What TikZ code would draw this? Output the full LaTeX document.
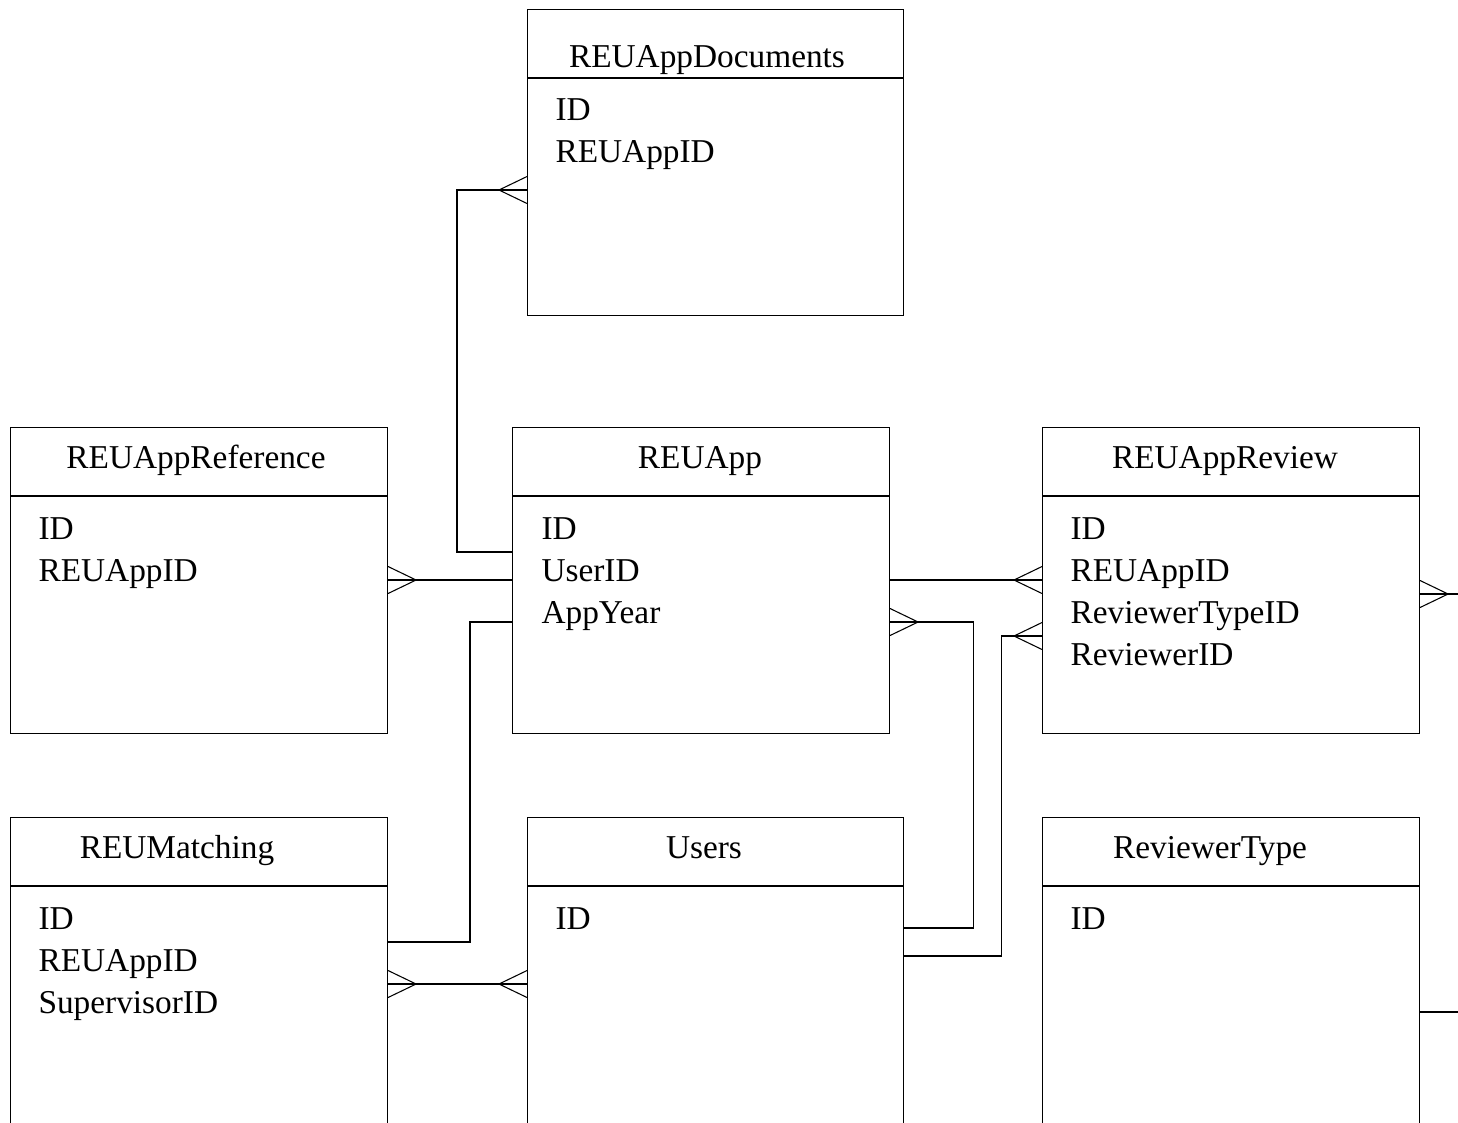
\documentclass[tikz,border=0pt]{standalone}
\usepackage{fontspec}
\setmainfont{Liberation Serif}
\usetikzlibrary{calc}

\begin{document}
\begin{tikzpicture}[x=0.75pt,y=-0.75pt,
  line width=0.8pt,
  font=\fontsize{25}{30}\selectfont,
  entity/.style={draw,rectangle,inner sep=0pt,anchor=north west,
    minimum width=#1*0.75pt,minimum height=306*0.75pt},
  entity/.default=377,
  title/.style={anchor=base,inner sep=0pt},
  attr/.style={anchor=base west,inner sep=0pt,align=left},
  link/.style={draw},
  crow/.pic={\draw (0,-13.5) -- (28,0) -- (0,13.5);}
]
\useasboundingbox (0,0) rectangle (1458,1122);
\clip (0,0) rectangle (1458,1122);

% ---- entity boxes ----
\node[entity=376] (docs) at (527,9) {};
\node[entity] (ref) at (10,427) {};
\node[entity] (app) at (512,427) {};
\node[entity] (review) at (1042,427) {};
\node[entity] (match) at (10,817) {};
\node[entity=376] (users) at (527,817) {};
\node[entity] (rtype) at (1042,817) {};

% header dividers
\foreach \b in {docs,ref,app,review,match,users,rtype}
  \draw ($(\b.north west)+(0,69)$) -- ($(\b.north east)+(0,69)$);

% ---- titles ----
\node[title] (docs-t) at (707,67) {REUAppDocuments};
\node[title] (ref-t) at (196,468) {REUAppReference};
\node[title] (app-t) at (700,468) {REUApp};
\node[title] (review-t) at (1225,468) {REUAppReview};
\node[title] (match-t) at (177,858) {REUMatching};
\node[title] (users-t) at (704,858) {Users};
\node[title] (rtype-t) at (1210,858) {ReviewerType};

% ---- attributes ----
\node[attr] (docs-a1) at (555,120) {ID};
\node[attr] (docs-a2) at (555,162) {REUAppID};

\node[attr] (ref-a1) at (38,539) {ID};
\node[attr] (ref-a2) at (38,581) {REUAppID};

\node[attr] (app-a1) at (541,539) {ID};
\node[attr] (app-a2) at (541,581) {UserID};
\node[attr] (app-a3) at (541,623) {AppYear};

\node[attr] (review-a1) at (1070,539) {ID};
\node[attr] (review-a2) at (1070,581) {REUAppID};
\node[attr] (review-a3) at (1070,623) {ReviewerTypeID};
\node[attr] (review-a4) at (1070,665) {ReviewerID};

\node[attr] (match-a1) at (38,929) {ID};
\node[attr] (match-a2) at (38,971) {REUAppID};
\node[attr] (match-a3) at (38,1013) {SupervisorID};

\node[attr] (users-a1) at (555,929) {ID};

\node[attr] (rtype-a1) at (1070,929) {ID};

% ---- connection points on the box edges ----
\coordinate (app-w1) at ($(app.north west)+(0,125)$);
\coordinate (app-w2) at ($(app.north west)+(0,153)$);
\coordinate (app-w3) at ($(app.north west)+(0,195)$);
\coordinate (app-e1) at ($(app.north east)+(0,153)$);
\coordinate (app-e2) at ($(app.north east)+(0,195)$);
\coordinate (docs-w) at ($(docs.north west)+(0,181)$);
\coordinate (ref-e) at ($(ref.north east)+(0,153)$);
\coordinate (review-w1) at ($(review.north west)+(0,153)$);
\coordinate (review-w2) at ($(review.north west)+(0,209)$);
\coordinate (review-e) at ($(review.north east)+(0,167)$);
\coordinate (match-e1) at ($(match.north east)+(0,125)$);
\coordinate (match-e2) at ($(match.north east)+(0,167)$);
\coordinate (users-w) at ($(users.north west)+(0,167)$);
\coordinate (users-e1) at ($(users.north east)+(0,111)$);
\coordinate (users-e2) at ($(users.north east)+(0,139)$);
\coordinate (rtype-e) at ($(rtype.north east)+(0,195)$);
\coordinate (review-out) at (1458,594);
\coordinate (rtype-out) at (1458,1012);

% ---- relationships ----
\draw[link] (app-w1) -- ++(-55,0) |- (docs-w);
\draw[link] (app-w2) -- (ref-e);
\draw[link] (app-w3) -- ++(-42,0) |- (match-e1);
\draw[link] (app-e1) -- (review-w1);
\draw[link] (users-e1) -- ++(69,0) |- (app-e2);
\draw[link] (users-e2) -- ++(97,0) |- (review-w2);
\draw[link] (match-e2) -- (users-w);
\draw[link] (review-e) -- (review-out);
\draw[link] (rtype-e) -- (rtype-out);

% ---- many-side crow's feet ----
\pic[xscale=-1] at (docs-w) {crow};
\pic at (ref-e) {crow};
\pic[xscale=-1] at (review-w1) {crow};
\pic[xscale=-1] at (review-w2) {crow};
\pic at (app-e2) {crow};
\pic at (review-e) {crow};
\pic at (match-e2) {crow};
\pic[xscale=-1] at (users-w) {crow};

\end{tikzpicture}
\end{document}
